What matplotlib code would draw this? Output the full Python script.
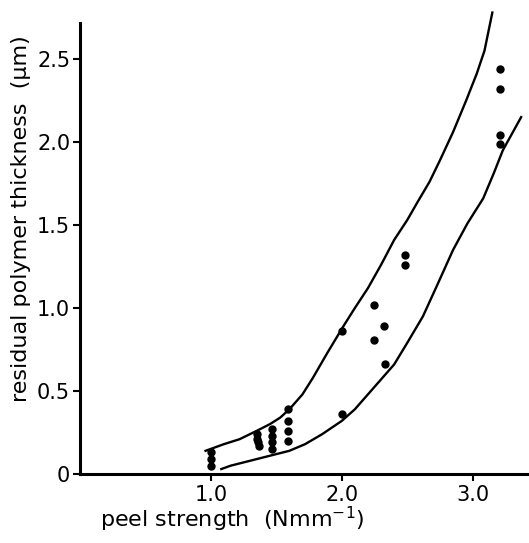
import matplotlib
matplotlib.use("Agg")
import matplotlib.pyplot as plt

plt.rcParams['font.family'] = ['DejaVu Sans']

# measured points (peel strength, residual thickness)
peel = [1.0, 1.0, 1.0,
        1.35, 1.35, 1.36, 1.37,
        1.47, 1.47, 1.47, 1.47,
        1.59, 1.59, 1.59, 1.59,
        2.0, 2.0,
        2.25, 2.25, 2.32, 2.33,
        2.48, 2.48,
        3.21, 3.21, 3.21, 3.21]
thick = [0.13, 0.09, 0.05,
         0.24, 0.21, 0.19, 0.17,
         0.27, 0.23, 0.19, 0.15,
         0.39, 0.32, 0.26, 0.20,
         0.86, 0.36,
         1.02, 0.81, 0.89, 0.66,
         1.32, 1.26,
         2.44, 2.32, 2.04, 1.99]

# envelope curves
upper_x = [0.96, 1.10, 1.22, 1.35, 1.45, 1.53, 1.60, 1.70, 1.78, 1.89, 2.02, 2.10, 2.20,
           2.30, 2.40, 2.50, 2.58, 2.67, 2.75, 2.85, 2.95, 3.03, 3.09, 3.15]
upper_y = [0.14, 0.18, 0.21, 0.26, 0.30, 0.34, 0.39, 0.48, 0.58, 0.73, 0.90, 1.00, 1.12,
           1.26, 1.41, 1.53, 1.64, 1.76, 1.89, 2.06, 2.25, 2.41, 2.55, 2.78]
lower_x = [1.08, 1.15, 1.30, 1.45, 1.60, 1.72, 1.85, 2.00, 2.10, 2.20, 2.30, 2.40,
           2.50, 2.62, 2.73, 2.85, 2.96, 3.08, 3.16, 3.23, 3.30, 3.37]
lower_y = [0.03, 0.05, 0.08, 0.11, 0.14, 0.18, 0.24, 0.32, 0.39, 0.48, 0.57, 0.66,
           0.79, 0.95, 1.14, 1.35, 1.51, 1.66, 1.81, 1.95, 2.05, 2.15]

fig = plt.figure(figsize=(5.29, 5.43), dpi=100)
ax = fig.add_axes([0.151, 0.127, 0.849, 0.856])

ax.plot(upper_x, upper_y, color='black', lw=1.7, clip_on=False)
ax.plot(lower_x, lower_y, color='black', lw=1.7, clip_on=False)
ax.plot(peel, thick, 'o', color='black', ms=5, clip_on=False)

ax.set_xlim(0, 3.43)
ax.set_ylim(0, 2.8)
ax.spines['top'].set_visible(False)
ax.spines['right'].set_visible(False)
ax.spines['left'].set_bounds(0, 2.72)
ax.spines['left'].set_linewidth(2.2)
ax.spines['bottom'].set_linewidth(2.2)

ax.set_xticks([1.0, 2.0, 3.0])
ax.set_xticklabels(['1.0', '2.0', '3.0'])
ax.set_yticks([0, 0.5, 1.0, 1.5, 2.0, 2.5])
ax.set_yticklabels(['0', '0.5', '1.0', '1.5', '2.0', '2.5'])
ax.tick_params(axis='both', labelsize=15, width=1.5, length=5, pad=2)
ax.tick_params(axis='x', pad=3)

ax.set_xlabel('peel strength  (Nmm$^{-1}$)', fontsize=16, labelpad=0, x=0.34)
ax.set_ylabel('residual polymer thickness  (\u03bcm)', fontsize=16, labelpad=4, y=0.55)

fig.savefig('out.png', dpi=100)
